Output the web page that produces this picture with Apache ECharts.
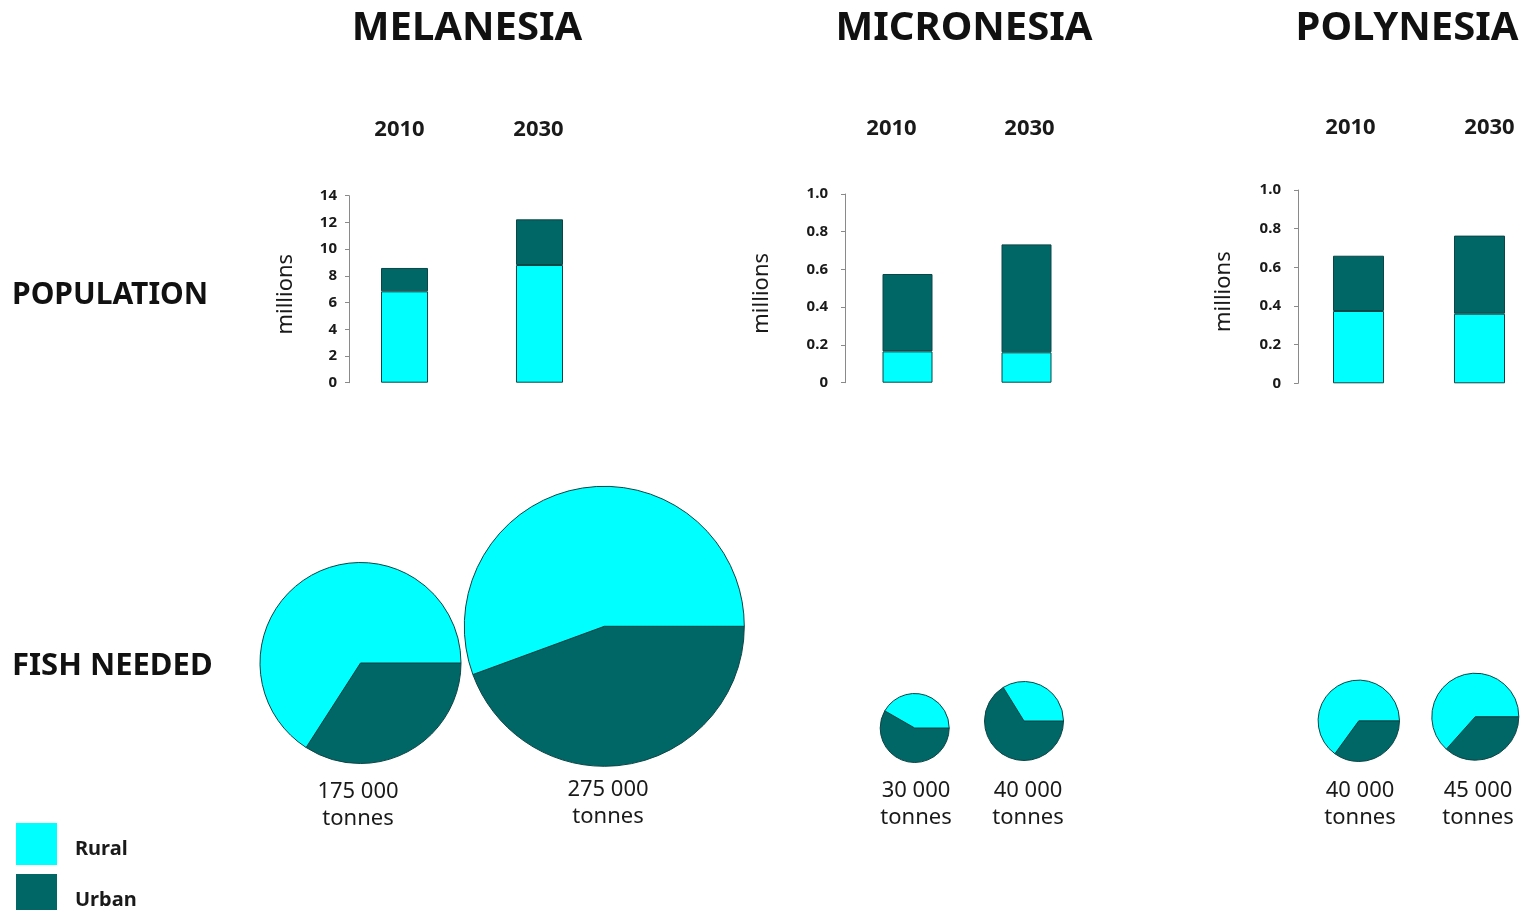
<!DOCTYPE html>
<html>
<head>
<meta charset="utf-8">
<script src="https://cdn.jsdelivr.net/npm/echarts@6/dist/echarts.min.js"></script>
<style>
html,body{margin:0;padding:0;background:#fff;}
#chart{width:1531px;height:910px;}
</style>
</head>
<body>
<div id="chart"></div>
<script>
// ---- data ----
const regions = ['MELANESIA', 'MICRONESIA', 'POLYNESIA'];
const years = ['2010', '2030'];
const seriesNames = ['Rural', 'Urban'];

// population, millions
const melRural = [6.84, 8.81];
const melUrban = [1.75, 3.42];
const micRural = [0.166, 0.161];
const micUrban = [0.41, 0.572];
const polRural = [0.374, 0.36];
const polUrban = [0.286, 0.404];

// fish needed: share of tonnage (%)
const melFishRural = [65.9, 55.6];
const melFishUrban = [34.1, 44.4];
const micFishRural = [41.7, 33.8];
const micFishUrban = [58.3, 66.2];
const polFishRural = [65.0, 63.4];
const polFishUrban = [35.0, 36.6];

// fish needed labels
const melTonnes = ['175 000', '275 000'];
const micTonnes = ['30 000', '40 000'];
const polTonnes = ['40 000', '45 000'];

const melAxisMax = 14, melAxisStep = 2;
const smallAxisMax = 1.0, smallAxisStep = 0.2;

// ---- styles / layout ----
const RURAL = '#00FFFF';
const URBAN = '#006666';
const EDGE = '#0b4646';
const FONT = '"Noto Sans", "Open Sans", sans-serif';

const grids = [
  {left: 337, top: 195.7, width: 270, height: 187, offset: -12, barW: 47, max: melAxisMax, step: melAxisStep, labMargin: 55, nameGap: 52, yearShift: [-5, -1]},
  {left: 848, top: 194, width: 238, height: 188.7, offset: 3, barW: 50, max: smallAxisMax, step: smallAxisStep, labMargin: 54, nameGap: 72, yearShift: [-16, 3]},
  {left: 1298, top: 190, width: 242, height: 193.3, offset: 0, barW: 51, max: smallAxisMax, step: smallAxisStep, labMargin: 51, nameGap: 63, yearShift: [-8, 10]}
];
const barRural = [melRural, micRural, polRural];
const barUrban = [melUrban, micUrban, polUrban];

const pieRural = [melFishRural, micFishRural, polFishRural];
const pieUrban = [melFishUrban, micFishUrban, polFishUrban];
const pieTonnes = [melTonnes, micTonnes, polTonnes];
const pieLayout = [
  [{c: [360.5, 663], r: 100.5, lx: 358, ly: 805}, {c: [604.3, 626.3], r: 140, lx: 608, ly: 803}],
  [{c: [914.7, 728], r: 34.5, lx: 916, ly: 804}, {c: [1024, 721], r: 39.5, lx: 1028, ly: 804}],
  [{c: [1358.8, 720.8], r: 40.7, lx: 1360, ly: 804}, {c: [1475.3, 716.7], r: 43.5, lx: 1478, ly: 804}]
];
const titleX = [467, 964, 1407];

function shiftPad(d) {
  return d < 0 ? [0, -2 * d, 0, 0] : [0, 0, 0, 2 * d];
}

const option = {
  backgroundColor: '#fff',
  animation: false,
  textStyle: {fontFamily: FONT},
  legend: {
    orient: 'vertical', left: 11, top: 818, height: 140,
    data: seriesNames,
    icon: 'rect', itemWidth: 41, itemHeight: 42, itemGap: 9,
    itemStyle: {borderWidth: 0},
    formatter: '{t|{name}}',
    textStyle: {
      fontFamily: FONT, fontSize: 20, fontWeight: 'bold', color: '#1a1a1a',
      rich: {t: {fontFamily: FONT, fontSize: 20, fontWeight: 'bold', color: '#1a1a1a', padding: [10, 0, 0, 13]}}
    },
    selectedMode: false
  },
  grid: [], xAxis: [], yAxis: [], series: [], graphic: []
};

grids.forEach((g, i) => {
  option.grid.push({left: g.left, top: g.top, width: g.width, height: g.height, containLabel: false, outerBoundsMode: 'none'});
  option.xAxis.push({
    type: 'category', gridIndex: i, position: 'top',
    data: years.map((y, j) => ({value: y, textStyle: {padding: shiftPad(g.yearShift[j])}})),
    axisLine: {show: false}, axisTick: {show: false},
    axisLabel: {margin: g.labMargin, fontFamily: FONT, fontSize: 22, fontWeight: 'bold', color: '#1a1a1a'}
  });
  option.yAxis.push({
    type: 'value', gridIndex: i, min: 0, max: g.max, interval: g.step, offset: g.offset,
    name: 'millions', nameLocation: 'middle', nameGap: g.nameGap, nameRotate: 90,
    nameTextStyle: {fontFamily: FONT, fontSize: 22, color: '#1a1a1a', padding: [0, 10, 0, 0]},
    axisLine: {show: true, lineStyle: {color: '#8a8a8a', width: 1}},
    axisTick: {show: true, length: 4, lineStyle: {color: '#8a8a8a'}},
    splitLine: {show: false},
    axisLabel: {
      margin: i === 0 ? 12 : 17, fontFamily: FONT, fontSize: 15, fontWeight: 'bold', color: '#1a1a1a',
      formatter: v => (g.max === 1 ? (v === 0 ? '0' : v.toFixed(1)) : String(v))
    }
  });
  option.series.push({
    name: 'Rural', type: 'bar', stack: 'pop' + i, xAxisIndex: i, yAxisIndex: i,
    data: barRural[i], barWidth: g.barW,
    itemStyle: {color: RURAL, borderColor: EDGE, borderWidth: 1}
  });
  option.series.push({
    name: 'Urban', type: 'bar', stack: 'pop' + i, xAxisIndex: i, yAxisIndex: i,
    data: barUrban[i], barWidth: g.barW,
    itemStyle: {color: URBAN, borderColor: EDGE, borderWidth: 1}
  });
});

pieLayout.forEach((pair, i) => {
  pair.forEach((p, j) => {
    option.series.push({
      type: 'pie', center: p.c, radius: [0, p.r], startAngle: 0, clockwise: true,
      silent: true, label: {show: false}, labelLine: {show: false},
      itemStyle: {borderColor: EDGE, borderWidth: 1},
      data: [
        {name: 'Urban', value: pieUrban[i][j], itemStyle: {color: URBAN}},
        {name: 'Rural', value: pieRural[i][j], itemStyle: {color: RURAL}}
      ]
    });
    option.graphic.push({
      type: 'text', x: p.lx, y: p.ly,
      style: {text: pieTonnes[i][j] + '\ntonnes', fontFamily: FONT, fontSize: 22, lineHeight: 27,
        fill: '#1a1a1a', align: 'center', verticalAlign: 'middle'}
    });
  });
});

regions.forEach((r, i) => {
  option.graphic.push({
    type: 'text', x: titleX[i], y: 29,
    style: {text: r, fontFamily: FONT, fontSize: 40, fontWeight: 'bold', fill: '#111', align: 'center', verticalAlign: 'middle'}
  });
});
option.graphic.push({
  type: 'text', x: 12, y: 295,
  style: {text: 'POPULATION', fontFamily: FONT, fontSize: 30, fontWeight: 'bold', fill: '#111', align: 'left', verticalAlign: 'middle'}
});
option.graphic.push({
  type: 'text', x: 12, y: 666,
  style: {text: 'FISH NEEDED', fontFamily: FONT, fontSize: 31, fontWeight: 'bold', fill: '#111', align: 'left', verticalAlign: 'middle'}
});

const chart = echarts.init(document.getElementById('chart'), null, {renderer: 'canvas'});
chart.setOption(option);
</script>
</body>
</html>
